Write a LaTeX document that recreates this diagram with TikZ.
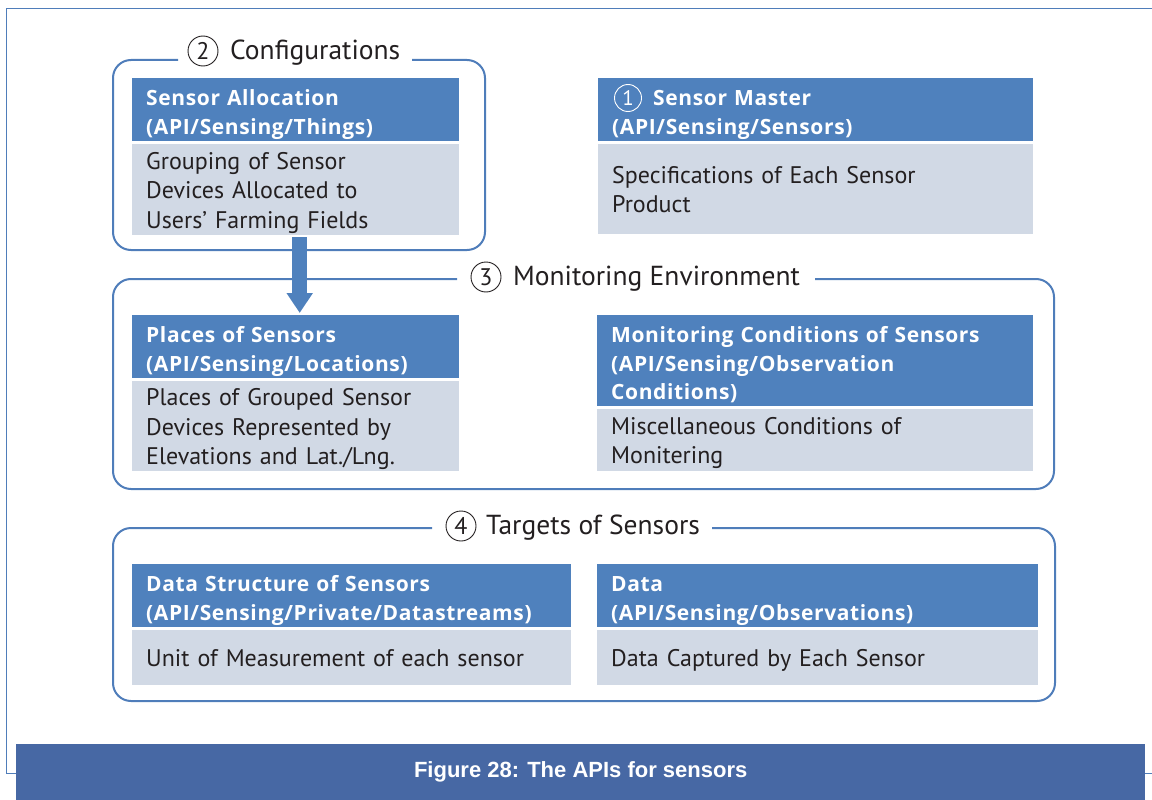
\documentclass[tikz,border=0pt]{standalone}
\usepackage{fontspec}
\setmainfont{PT Sans}
\newfontfamily\hdrfont[LetterSpace=3]{Open Sans}
\newfontfamily\capfont{Liberation Sans}
\usetikzlibrary{arrows.meta,calc}
\definecolor{hblue}{HTML}{4F81BD}
\definecolor{bgray}{HTML}{D1D9E5}
\definecolor{capblue}{HTML}{4768A4}
\definecolor{frameblue}{HTML}{4F7DBA}
\definecolor{ink}{HTML}{231F20}
\newcommand\hfirst{\rule{0pt}{27pt}}
\newcommand\hlast{\rule[-6pt]{0pt}{0pt}}
\newcommand\bfirst{\rule{0pt}{23pt}}
\newcommand\blast{\rule[-5pt]{0pt}{0pt}}
\begin{document}
\begin{tikzpicture}[x=1pt,y=-1pt,
  hdr/.style={fill=hblue,text=white,font=\hdrfont\bfseries\fontsize{21}{28.5}\selectfont,align=left,inner xsep=14pt,inner ysep=0pt,anchor=north west},
  bdy/.style={fill=bgray,text=ink,font=\fontsize{24}{29.5}\selectfont,align=left,inner xsep=14pt,inner ysep=0pt,anchor=north west},
  grp/.style={draw=frameblue,line width=2pt,rounded corners=18pt},
  gtitle/.style={font=\fontsize{27.5}{30}\selectfont,text=ink,inner sep=0pt,anchor=base west},
  cnum/.style={circle,draw=ink,line width=0.9pt,minimum size=30pt,inner sep=0pt,text=ink,font=\fontsize{24}{24}\selectfont},
  bigarrow/.style={draw=hblue,line width=15pt,-{Triangle[length=20pt,width=25pt]}}
]
\useasboundingbox (0,0) rectangle (1152,800);

% outer frame
\draw[frameblue,line width=1pt] (1160,773) -- (6,773) -- (6,9) -- (1160,9);

% caption
\node[fill=capblue,minimum width=1129pt,minimum height=56pt,inner sep=0pt,anchor=north west,text=white,font=\capfont\bfseries\fontsize{22}{24}\selectfont] (cap) at (16,744) {Figure 28: The APIs for sensors};

% group 2
\node[cnum] (c2) at (203,51) {2};
\node[gtitle] (t2) at (230,60) {Configurations};
\draw[grp] (178,60) -- (113,60) -- (113,250) -- (485,250) -- (485,60) -- (412,60);
\node[hdr,text width=299pt,minimum height=63pt] (sah) at (132,78) {\hfirst Sensor Allocation\\(API/Sensing/Things)\hlast};
\node[bdy,text width=299pt,minimum height=91pt] (sab) at (132,144) {\bfirst Grouping of Sensor\\Devices Allocated to\\Users’ Farming Fields\blast};

% sensor master
\node[hdr,text width=407pt,minimum height=63pt] (smh) at (598,78) {\hfirst\hspace*{41pt}Sensor Master\\(API/Sensing/Sensors)\hlast};
\node[cnum,draw=white,text=white,minimum size=27pt,font=\fontsize{21}{21}\selectfont] (c1) at (628,98) {1};
\node[bdy,text width=407pt,minimum height=90pt] (smb) at (598,144) {\bfirst Specifications of Each Sensor\\Product\blast};

% group 3
\node[cnum] (c3) at (486,277) {3};
\node[gtitle] (t3) at (513,285) {Monitoring Environment};
\draw[grp] (457,279) -- (113,279) -- (113,489) -- (1054,489) -- (1054,279) -- (815,279);
\node[hdr,text width=299pt,minimum height=63pt] (plh) at (132,315) {\hfirst Places of Sensors\\(API/Sensing/Locations)\hlast};
\node[bdy,text width=299pt,minimum height=90pt] (plb) at (132,381) {\bfirst Places of Grouped Sensor\\Devices Represented by\\Elevations and Lat./Lng.\blast};
\node[hdr,text width=408pt,minimum height=91pt] (mch) at (597,315) {\hfirst Monitoring Conditions of Sensors\\(API/Sensing/Observation\\Conditions)\hlast};
\node[bdy,text width=408pt,minimum height=62pt] (mcb) at (597,409) {\bfirst Miscellaneous Conditions of\\Monitering\blast};

% arrow
\draw[bigarrow] ($(sab.south)+(4,2)$) -- ($(plh.north)+(4,-2)$);

% group 4
\node[cnum] (c4) at (461,526) {4};
\node[gtitle] (t4) at (486,534) {Targets of Sensors};
\draw[grp] (432,528) -- (113,528) -- (113,701) -- (1055,701) -- (1055,528) -- (712,528);
\node[hdr,text width=411pt,minimum height=63pt] (dsh) at (132,564) {\hfirst Data Structure of Sensors\\(API/Sensing/Private/Datastreams)\hlast};
\node[bdy,text width=411pt,minimum height=55pt] (dsb) at (132,630) {\bfirst Unit of Measurement of each sensor\blast};
\node[hdr,text width=413pt,minimum height=63pt] (dah) at (597,564) {\hfirst Data\\(API/Sensing/Observations)\hlast};
\node[bdy,text width=413pt,minimum height=55pt] (dab) at (597,630) {\bfirst Data Captured by Each Sensor\blast};
\end{tikzpicture}
\end{document}
